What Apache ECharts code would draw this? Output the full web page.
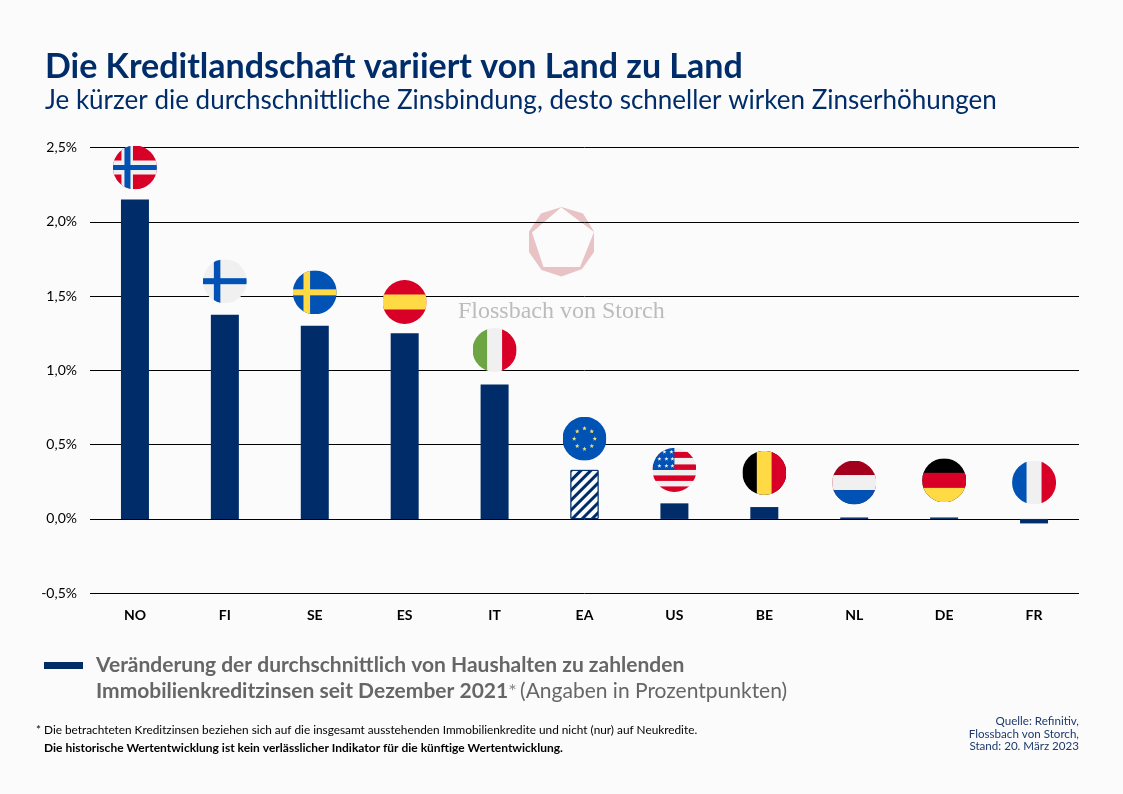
<!DOCTYPE html>
<html lang="de">
<head>
<meta charset="utf-8">
<title>Die Kreditlandschaft variiert von Land zu Land</title>
<script src="https://cdn.jsdelivr.net/npm/echarts@6/dist/echarts.min.js"></script>
<style>html,body{margin:0;padding:0;background:#fbfbfc}#c{width:1123px;height:794px}</style>
</head>
<body>
<div id="c"></div>
<script>
const categories = ['NO','FI','SE','ES','IT','EA','US','BE','NL','DE','FR'];
const rateChange = [2.15,1.375,1.30,1.25,0.905,0.33,0.105,0.08,0.01,0.01,-0.03];
const flagHeight = [2.365,1.60,1.525,1.46,1.137,0.54,0.33,0.31,0.245,0.26,0.245];
const estimatedCategory = 'EA';
const yTicks = {min:-0.5,max:2.5,interval:0.5};

const NAVY='#002d69', RED='#d80027', BLUE='#0052b4', YEL='#ffda44', WHT='#f0f0f0';
function star(cx,cy,r,fill){
  let p=[];
  for(let i=0;i<10;i++){
    const a=-Math.PI/2+i*Math.PI/5, q=i%2?r*0.42:r;
    p.push((cx+q*Math.cos(a)).toFixed(2)+','+(cy+q*Math.sin(a)).toFixed(2));
  }
  return `<polygon points="${p.join(' ')}" fill="${fill}"/>`;
}
function rect(x,y,w,h,f){return `<rect x="${x}" y="${y}" width="${w}" height="${h}" fill="${f}"/>`;}
function euStars(){
  let s='';
  for(let i=0;i<8;i++){
    const a=-Math.PI/2+i*Math.PI/4;
    s+=star(22+10.3*Math.cos(a),22+10.3*Math.sin(a),2.4,'#f5e06a');
  }
  return s;
}
function usStars(){
  let s='';
  [[12,3],[19,3],[7,10],[14,10],[20,10],[7,17],[14,17],[20,17]].forEach(p=>{s+=star(p[0],p[1]+1,2.2,'#f0f0f0');});
  return s;
}
const flagArt = {
  NO: rect(0,0,44,44,RED)+rect(8.5,0,11.5,44,WHT)+rect(0,15,44,14,WHT)+rect(11.5,0,6,44,BLUE)+rect(0,19.5,44,5,BLUE),
  FI: rect(0,0,44,44,WHT)+rect(11,0,6.5,44,BLUE)+rect(0,19,44,6,BLUE),
  SE: rect(0,0,44,44,BLUE)+rect(10.7,0,6.6,44,YEL)+rect(0,19,44,6,YEL),
  ES: rect(0,0,44,44,RED)+rect(0,14.5,44,15,YEL),
  IT: rect(0,0,44,44,WHT)+rect(0,0,14.5,44,'#6da544')+rect(29.5,0,15,44,RED),
  EA: rect(0,0,44,44,BLUE)+euStars(),
  US: rect(0,0,44,44,WHT)+rect(0,4,44,6,RED)+rect(0,16.5,44,5.5,RED)+rect(0,27.5,44,5.5,RED)+rect(0,38.5,44,6,RED)+rect(0,0,22,22,BLUE)+usStars(),
  BE: rect(0,0,44,44,'#000')+rect(14.5,0,15,44,YEL)+rect(29.5,0,15,44,RED),
  NL: rect(0,0,44,44,'#a2001d')+rect(0,14.5,44,15,WHT)+rect(0,29.5,44,15,BLUE),
  DE: rect(0,0,44,44,'#000')+rect(0,14.5,44,15,RED)+rect(0,29.5,44,15,YEL),
  FR: rect(0,0,44,44,WHT)+rect(0,0,14.5,44,BLUE)+rect(29.5,0,15,44,RED)
};
function flagSymbol(code){
  const svg=`<svg xmlns="http://www.w3.org/2000/svg" width="176" height="176" viewBox="0 0 44 44"><defs><clipPath id="k"><circle cx="22" cy="22" r="22"/></clipPath></defs><g clip-path="url(#k)">${flagArt[code]}</g></svg>`;
  return 'image://data:image/svg+xml;charset=utf-8,'+encodeURIComponent(svg);
}

const sans='Lato, "Noto Sans", sans-serif';
const chart=echarts.init(document.getElementById('c'),null,{renderer:'canvas'});
chart.setOption({
  animation:false,
  backgroundColor:'#fbfbfc',
  grid:{left:90,right:44,top:147.45,bottom:200.75,containLabel:false},
  xAxis:{
    type:'category',data:categories,
    axisLine:{onZero:false,show:false},axisTick:{show:false},splitLine:{show:false},
    axisLabel:{interval:0,margin:15,color:'#000',fontFamily:sans,fontWeight:'bold',fontSize:14}
  },
  yAxis:{
    type:'value',min:yTicks.min,max:yTicks.max,interval:yTicks.interval,
    axisLine:{show:false},axisTick:{show:false},
    splitLine:{show:true,lineStyle:{color:'#000',width:1}},
    axisLabel:{margin:13,color:'#000',fontFamily:sans,fontSize:14,
      formatter:v=>v.toFixed(1).replace('.',',')+'%'}
  },
  series:[
    {
      type:'bar',name:'Veränderung',barWidth:28,silent:true,z:2,
      data:rateChange.map((v,i)=>categories[i]===estimatedCategory?{
        value:v,
        itemStyle:{color:'#fbfbfc',borderColor:NAVY,borderWidth:1,
          decal:{symbol:'rect',color:NAVY,backgroundColor:'#fbfbfc',dashArrayX:[1,0],dashArrayY:[2.5,3.5],symbolSize:1,rotation:-Math.PI/4}}
      }:v),
      itemStyle:{color:NAVY}
    },
    {
      type:'scatter',name:'Flaggen',silent:true,clip:false,z:3,symbolSize:44,
      itemStyle:{opacity:1},
      data:flagHeight.map((v,i)=>({value:[categories[i],v],symbol:flagSymbol(categories[i])}))
    }
  ],
  graphic:[
    {type:'text',left:45,top:50,style:{text:'Die Kreditlandschaft variiert von Land zu Land',fill:NAVY,font:'bold 34px '+sans}},
    {type:'text',left:45,top:88,style:{text:'Je kürzer die durchschnittliche Zinsbindung, desto schneller wirken Zinserhöhungen',fill:NAVY,font:'26px '+sans}},
    {type:'polygon',z:-1,shape:{points:[[561.5,207],[583,213.5],[594,231.5],[594,252],[582,269],[561.5,276.5],[541.5,270],[529,252],[529,231.5],[541,213.5],[561.5,207],[532,232.5],[543.5,267],[580,267],[594,232],[561.5,207.5]]},style:{fill:'#e8c2c4'}},
    {type:'text',left:458,top:300,style:{text:'Flossbach von Storch',fill:'#bcbcbc',font:'24px "Liberation Serif", serif'}},
    {type:'rect',shape:{x:44,y:662,width:39,height:7},style:{fill:NAVY}},
    {type:'text',left:96,top:655,style:{
      text:'{b|Veränderung der durchschnittlich von Haushalten zu zahlenden}\n{b|Immobilienkreditzinsen seit Dezember 2021}{s|*} {r|(Angaben in Prozentpunkten)}',
      rich:{
        b:{font:'bold 21px '+sans,fill:'#666666',lineHeight:26},
        s:{font:'20px '+sans,fill:'#888888',lineHeight:26},
        r:{font:'21px '+sans,fill:'#666666',lineHeight:26}
      }}},
    {type:'text',left:36,top:724,style:{text:'* Die betrachteten Kreditzinsen beziehen sich auf die insgesamt ausstehenden Immobilienkredite und nicht (nur) auf Neukredite.',fill:'#000',font:'11.8px '+sans}},
    {type:'text',left:44,top:742,style:{text:'Die historische Wertentwicklung ist kein verlässlicher Indikator für die künftige Wertentwicklung.',fill:'#000',font:'bold 12px '+sans}},
    {type:'text',x:1079,y:715,style:{text:'Quelle: Refinitiv,\nFlossbach von Storch,\nStand: 20. März 2023',fill:'#1d3a6b',font:'11.6px '+sans,lineHeight:12.5,align:'right'}}
  ]
});
</script>
</body>
</html>
